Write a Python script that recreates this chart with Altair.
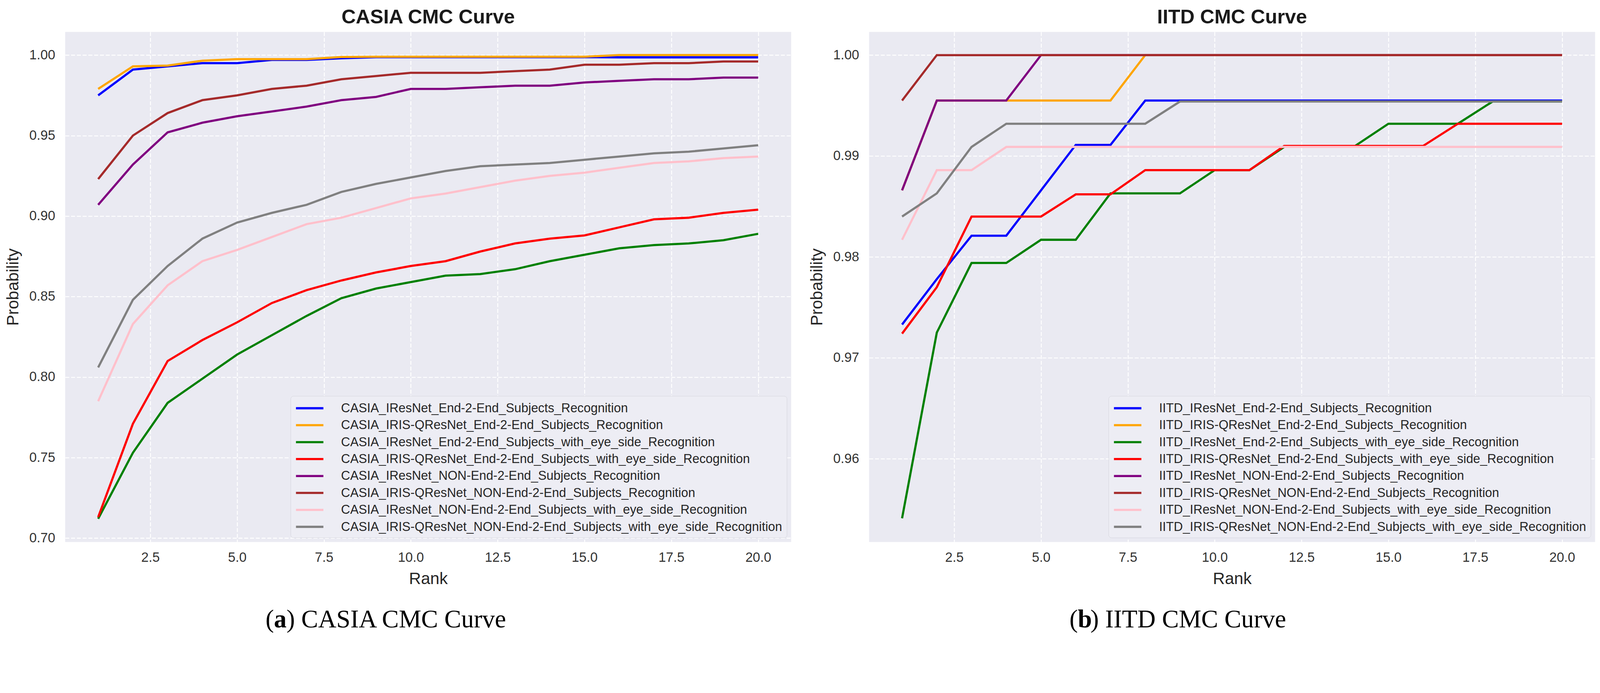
import altair as alt
import pandas as pd

ranks = list(range(1, 21))

suffixes = [
    "IResNet_End-2-End_Subjects_Recognition",
    "IRIS-QResNet_End-2-End_Subjects_Recognition",
    "IResNet_End-2-End_Subjects_with_eye_side_Recognition",
    "IRIS-QResNet_End-2-End_Subjects_with_eye_side_Recognition",
    "IResNet_NON-End-2-End_Subjects_Recognition",
    "IRIS-QResNet_NON-End-2-End_Subjects_Recognition",
    "IResNet_NON-End-2-End_Subjects_with_eye_side_Recognition",
    "IRIS-QResNet_NON-End-2-End_Subjects_with_eye_side_Recognition",
]
colors = ["blue", "orange", "green", "red", "purple", "brown", "pink", "gray"]

casia_blue = [0.975, 0.991, 0.993, 0.995, 0.995, 0.997, 0.997, 0.998, 0.9987, 0.9987,
              0.9987, 0.9987, 0.9987, 0.9987, 0.9987, 0.9986, 0.9986, 0.9986, 0.9986, 0.9986]
casia_orange = [0.979, 0.993, 0.9935, 0.9965, 0.9975, 0.9975, 0.9975, 0.9988, 0.999, 0.999,
                0.999, 0.999, 0.999, 0.999, 0.999, 1.0, 1.0, 1.0, 1.0, 1.0]
casia_green = [0.712, 0.753, 0.784, 0.799, 0.814, 0.826, 0.838, 0.849, 0.855, 0.859,
               0.863, 0.864, 0.867, 0.872, 0.876, 0.880, 0.882, 0.883, 0.885, 0.889]
casia_red = [0.713, 0.771, 0.810, 0.823, 0.834, 0.846, 0.854, 0.860, 0.865, 0.869,
             0.872, 0.878, 0.883, 0.886, 0.888, 0.893, 0.898, 0.899, 0.902, 0.904]
casia_purple = [0.907, 0.932, 0.952, 0.958, 0.962, 0.965, 0.968, 0.972, 0.974, 0.979,
                0.979, 0.980, 0.981, 0.981, 0.983, 0.984, 0.985, 0.985, 0.986, 0.986]
casia_brown = [0.923, 0.950, 0.964, 0.972, 0.975, 0.979, 0.981, 0.985, 0.987, 0.989,
               0.989, 0.989, 0.990, 0.991, 0.994, 0.994, 0.995, 0.995, 0.996, 0.996]
casia_pink = [0.785, 0.833, 0.857, 0.872, 0.879, 0.887, 0.895, 0.899, 0.905, 0.911,
              0.914, 0.918, 0.922, 0.925, 0.927, 0.930, 0.933, 0.934, 0.936, 0.937]
casia_gray = [0.806, 0.848, 0.869, 0.886, 0.896, 0.902, 0.907, 0.915, 0.920, 0.924,
              0.928, 0.931, 0.932, 0.933, 0.935, 0.937, 0.939, 0.940, 0.942, 0.944]

iitd_blue = [0.9733, 0.9778, 0.9821, 0.9821, 0.9866, 0.9911, 0.9911, 0.9955, 0.9955, 0.9955,
             0.9955, 0.9955, 0.9955, 0.9955, 0.9955, 0.9955, 0.9955, 0.9955, 0.9955, 0.9955]
iitd_orange = [0.9866, 0.9955, 0.9955, 0.9955, 0.9955, 0.9955, 0.9955, 1.0, 1.0, 1.0,
               1.0, 1.0, 1.0, 1.0, 1.0, 1.0, 1.0, 1.0, 1.0, 1.0]
iitd_green = [0.9541, 0.9725, 0.9794, 0.9794, 0.9817, 0.9817, 0.9863, 0.9863, 0.9863, 0.9886,
              0.9886, 0.9909, 0.9909, 0.9909, 0.9932, 0.9932, 0.9932, 0.9954, 0.9954, 0.9954]
iitd_red = [0.9724, 0.9770, 0.9840, 0.9840, 0.9840, 0.9862, 0.9862, 0.9886, 0.9886, 0.9886,
            0.9886, 0.9910, 0.9910, 0.9910, 0.9910, 0.9910, 0.9932, 0.9932, 0.9932, 0.9932]
iitd_purple = [0.9866, 0.9955, 0.9955, 0.9955, 1.0, 1.0, 1.0, 1.0, 1.0, 1.0,
               1.0, 1.0, 1.0, 1.0, 1.0, 1.0, 1.0, 1.0, 1.0, 1.0]
iitd_brown = [0.9955, 1.0, 1.0, 1.0, 1.0, 1.0, 1.0, 1.0, 1.0, 1.0,
              1.0, 1.0, 1.0, 1.0, 1.0, 1.0, 1.0, 1.0, 1.0, 1.0]
iitd_pink = [0.9817, 0.9886, 0.9886, 0.9909, 0.9909, 0.9909, 0.9909, 0.9909, 0.9909, 0.9909,
             0.9909, 0.9909, 0.9909, 0.9909, 0.9909, 0.9909, 0.9909, 0.9909, 0.9909, 0.9909]
iitd_gray = [0.9840, 0.9863, 0.9909, 0.9932, 0.9932, 0.9932, 0.9932, 0.9932, 0.9954, 0.9954,
             0.9954, 0.9954, 0.9954, 0.9954, 0.9954, 0.9954, 0.9954, 0.9954, 0.9954, 0.9954]

x_ticks = [2.5, 5.0, 7.5, 10.0, 12.5, 15.0, 17.5, 20.0]
casia_y_ticks = [0.70, 0.75, 0.80, 0.85, 0.90, 0.95, 1.00]
iitd_y_ticks = [0.96, 0.97, 0.98, 0.99, 1.00]

SANS = "Liberation Sans"
SERIF = "Palatino Linotype, Book Antiqua, Liberation Serif"
W, H = 2013, 1415
CAP_SIZE = 70


def panel(prefix, series, ydomain, yticks, title, letter, cap_rest):
    names = [prefix + "_" + s for s in suffixes]
    rows = []
    for name, vals in zip(names, series):
        for r, v in zip(ranks, vals):
            rows.append({"Rank": r, "Probability": v, "Series": name})
    df = pd.DataFrame(rows)

    lines = alt.Chart(df).mark_line(strokeWidth=6, clip=True).encode(
        x=alt.X("Rank:Q",
                scale=alt.Scale(domain=[0.05, 20.95], nice=False, zero=False),
                axis=alt.Axis(values=x_ticks, format=".1f", title="Rank", labelFlush=False)),
        y=alt.Y("Probability:Q",
                scale=alt.Scale(domain=ydomain, nice=False, zero=False),
                axis=alt.Axis(values=yticks, format=".2f", title="Probability")),
        color=alt.Color("Series:N",
                        scale=alt.Scale(domain=names, range=colors),
                        legend=alt.Legend(
                            title=None, orient="bottom-right", offset=12,
                            labelFont=SANS, labelFontSize=35, labelColor="#262626",
                            labelLimit=3000, labelOffset=65,
                            symbolType="M-2,0L2,0", symbolSize=1444, symbolStrokeWidth=6,
                            symbolOffset=19,
                            rowPadding=7, padding=12,
                            fillColor="#EDEDF4", strokeColor="#D2D2DA", cornerRadius=8)),
    )

    cx = 926
    w_open = 0.333 * CAP_SIZE
    w_a = 0.5 * CAP_SIZE
    w_rest = 9.75 * CAP_SIZE
    start = cx - (w_open + w_a + w_rest) / 2
    yb = 1652

    def txt(s, x, bold):
        return alt.Chart(pd.DataFrame({"t": [s]})).mark_text(
            font=SERIF, fontSize=CAP_SIZE, align="left", baseline="alphabetic",
            color="black", fontWeight="bold" if bold else "normal"
        ).encode(x=alt.value(x), y=alt.value(yb), text="t:N")

    caps = [txt("(", start, False), txt(letter, start + w_open, True),
            txt(") " + cap_rest, start + w_open + w_a, False)]

    return alt.layer(lines, *caps).properties(
        width=W, height=H,
        title=alt.TitleParams(text=title, font=SANS, fontSize=55, fontWeight="bold",
                              color="#1a1a1a", offset=12, anchor="middle"),
    )


left = panel("CASIA",
             [casia_blue, casia_orange, casia_green, casia_red,
              casia_purple, casia_brown, casia_pink, casia_gray],
             [0.6976, 1.0144], casia_y_ticks, "CASIA CMC Curve", "a", "CASIA CMC Curve")
right = panel("IITD",
              [iitd_blue, iitd_orange, iitd_green, iitd_red,
               iitd_purple, iitd_brown, iitd_pink, iitd_gray],
              [0.95175, 1.0023], iitd_y_ticks, "IITD CMC Curve", "b", "IITD CMC Curve")

chart = alt.hconcat(left, right, spacing=48).resolve_scale(color="independent").properties(
    padding={"left": 4, "top": -56, "right": 5, "bottom": -45}
).configure(
    background="white"
).configure_view(
    fill="#EAEAF2", strokeWidth=0
).configure_axis(
    domain=False, ticks=False, tickSize=0, grid=True, gridColor="white",
    gridDash=[11, 5], gridWidth=2.5,
    labelFont=SANS, labelFontSize=37, labelColor="#333333",
    titleFont=SANS, titleFontSize=46, titleFontWeight="normal", titleColor="#262626",
).configure_axisX(
    labelPadding=26, titlePadding=18
).configure_axisY(
    labelPadding=28, titlePadding=20
)

chart.save("out.html", embed_options={"renderer": "svg", "actions": False})
